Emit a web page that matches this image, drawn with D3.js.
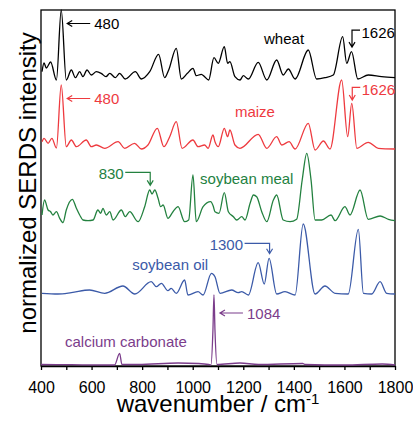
<!DOCTYPE html>
<html lang="en">
<head>
<meta charset="utf-8">
<title>SERDS spectra</title>
<style>
  body { margin: 0; background-color: white; }
  svg { font-family: Arial, "Liberation Sans", sans-serif; }
  .axis path, .axis line { fill: none; stroke: black; stroke-width: 1.3px; }
  .axis text { font-size: 16px; fill: black; }
  .spec { fill: none; stroke-width: 1.3px; stroke-linejoin: round; }
  .note { font-size: 15px; }
  .arrow { fill: none; stroke-width: 1.2px; }
</style>
</head>
<body>
<script src="https://cdnjs.cloudflare.com/ajax/libs/d3/7.8.5/d3.min.js"></script>
<script>
// spectra: [wavenumber, intensity above own baseline]
var names = ["wheat", "maize", "soybean meal", "soybean oil", "calcium carbonate"];
var colors = ["#000000", "#ee3a3f", "#23813f", "#3b5aa8", "#7b3d8b"];
var offsets = [287, 216, 145, 72, 1];

var wheat = [[404,7.3],[412,16],[421,11],[438,17],[461,-1],[480,69],[500,-1],[520,9],[536,1.3],[553,7.3],
  [566,2.3],[582,9],[599,4],[619,7.3],[638,5.7],[657,2.3],[672,5.7],[694,1.3],[711,5.7],[733,0],[773,7.3],
  [797,0],[830,7.3],[865,24.7],[889,1.3],[905,9],[935,30.7],[955,0],[979,5.7],[1001,10.7],[1014,3.3],
  [1034,4.7],[1047,2.3],[1063,-1],[1084,21.3],[1101,15.7],[1125,32.3],[1138,15.7],[1147,17.3],[1167,2.3],
  [1187,-1],[1200,3.3],[1220,0],[1259,16.7],[1293,-1],[1332,19],[1358,4],[1378,10],[1405,0],[1457,29],
  [1490,0],[1523,1.3],[1556,4],[1593,42.3],[1609,15.7],[1628,27.3],[1653,0],[1694,4],[1747,2.3],[1800,1.3]];

var maize = [[404,8.3],[412,11.7],[428,6.7],[443,11.7],[461,2],[480,65],[500,3.3],[520,10],[540,3.3],
  [579,10],[599,3.3],[619,5],[652,1.7],[705,8.3],[731,1.7],[770,6.7],[797,1],[823,5],[860,21.7],[886,3.3],
  [909,13.3],[935,28.3],[958,1.7],[1001,10],[1021,3.3],[1047,5],[1061,1.7],[1080,15],[1088,8.3],
  [1101,3.3],[1125,21.7],[1138,13.3],[1147,20],[1167,5],[1187,1.7],[1259,15.7],[1293,1.7],[1332,13.3],
  [1352,5],[1381,8.3],[1405,1],[1457,26.7],[1484,0],[1517,9],[1543,1],[1589,70],[1613,13.3],[1629,46.7],
  [1649,1.7],[1694,7.7],[1734,1.7],[1800,1]];

var soyMeal = [[404,6],[414,21],[428,11],[438,9.3],[447,6],[461,9.3],[474,2.7],[487,-1.7],[500,11],
  [524,21.7],[540,12.7],[553,6],[566,1],[586,0.3],[606,1],[625,11],[636,7.7],[645,12.7],[658,6],[672,9.3],
  [685,1],[718,11],[733,4.3],[751,9.3],[784,-0.7],[810,14.3],[830,31],[839,27],[850,31],[863,22.7],
  [873,14.3],[883,16],[902,2.7],[922,9.3],[942,14.3],[968,-0.7],[984,1],[1001,46],[1014,-0.7],[1041,14.3],
  [1071,19.3],[1081,15],[1088,9.3],[1104,7.7],[1125,28.3],[1141,9.3],[1161,4.3],[1174,1],[1194,4.3],
  [1207,1],[1227,17.7],[1240,26],[1253,24.3],[1273,9.3],[1293,-0.7],[1319,21],[1332,26],[1358,1],
  [1385,-0.7],[1411,1.7],[1433,41],[1451,67.7],[1468,41],[1484,1],[1510,1],[1547,6],[1563,0.3],
  [1602,14.3],[1622,6],[1662,31],[1694,1.7],[1741,5],[1774,1.7],[1800,0.3]];

var soyOil = [[404,0.7],[467,0],[520,1.3],[592,4],[652,0.7],[724,8],[771,0],[836,12.3],[856,7.3],
  [876,10.7],[902,3.3],[915,5.7],[935,0.7],[968,14],[981,-1],[1021,2.3],[1041,-1],[1074,20.7],[1088,17.3],
  [1108,0.7],[1154,4],[1180,1.3],[1194,2.3],[1220,-1],[1259,31.3],[1283,10],[1302,35.7],[1332,0],
  [1365,2.3],[1405,-1],[1437,70],[1484,0],[1523,8],[1563,0.7],[1615,0],[1655,64.7],[1675,0.7],[1708,0],
  [1741,12.3],[1767,0.7],[1800,0]];

var calcium = [[400,0.5],[520,0.3],[691,0],[711,11.7],[720,0.5],[784,0.5],[942,2],[1021,1.5],[1063,0.5],
  [1072,0],[1080,35],[1084,70],[1088,35],[1096,0.5],[1187,2],[1260,0.5],[1435,1.5],[1445,0.5],[1600,0],
  [1750,1],[1800,0]];

var spectra = [wheat, maize, soyMeal, soyOil, calcium];

// peak callouts: series, wavenumber, peak height, label
var calloutSeries = [0, 1, 0, 1, 2, 3, 4];
var calloutWn = [480, 480, 1628, 1629, 830, 1302, 1084];
var calloutPeak = [69, 65, 27.3, 46.7, 31, 35.7, 70];
var calloutText = ["480", "480", "1626", "1626", "830", "1300", "1084"];

// series names placed at [wavenumber, height]
var nameX = [1282, 1167, 1029, 761, 495];
var nameY = [322.5, 249.3, 182, 96.5, 19.3];

var majorTicks = [400, 600, 800, 1000, 1200, 1400, 1600, 1800];
var minorTicks = [500, 700, 900, 1100, 1300, 1500, 1700];

var fullWidth = 413, fullHeight = 422;
var margin = {top: 10, right: 18, bottom: 56, left: 41};
var width = fullWidth - margin.left - margin.right;
var height = fullHeight - margin.top - margin.bottom;

var svg = d3.select("body")
            .append("svg")
            .attr("width", fullWidth)
            .attr("height", fullHeight)
            .append("g")
            .attr("transform", "translate(" + margin.left + "," + margin.top + ")");

var x = d3.scaleLinear().domain([400, 1800]).range([0, width]);
var y = d3.scaleLinear().domain([0, 356]).range([height, 0]);

svg.append("g")
   .attr("class", "axis")
   .attr("transform", "translate(0," + height + ")")
   .call(d3.axisBottom(x).tickValues(majorTicks).tickFormat(d3.format("d"))
           .tickSize(4).tickSizeOuter(0).tickPadding(12));

// unlabelled ticks in between
svg.append("g")
   .attr("class", "axis")
   .attr("transform", "translate(0," + height + ")")
   .call(d3.axisBottom(x).tickValues(minorTicks).tickSize(4).tickSizeOuter(0))
   .call(function(g) { g.selectAll("text").remove(); g.select(".domain").remove(); });

// frame
svg.append("rect")
   .attr("width", width).attr("height", height)
   .attr("fill", "none").attr("stroke", "black").attr("stroke-width", 1.3);

var line = d3.line().curve(d3.curveMonotoneX);

spectra.forEach(function(data, i) {
  line.x(function(d) { return x(d[0]); })
      .y(function(d) { return y(d[1] + offsets[i]); });
  svg.append("path")
     .attr("class", "spec")
     .attr("stroke", colors[i])
     .attr("d", line(data));

  svg.append("text")
     .attr("class", "note")
     .attr("x", x(nameX[i]))
     .attr("y", y(nameY[i]))
     .attr("fill", colors[i])
     .text(names[i]);
});

// callouts
calloutText.forEach(function(t, i) {
  var s = calloutSeries[i];
  var px = x(calloutWn[i]);
  var py = y(calloutPeak[i] + offsets[s]);
  var c = colors[s];
  var g = svg.append("g").attr("stroke", c);
  var tx, ty, anchor = "start";

  if (i === 0 || i === 1 || i === 6) {
    // straight arrow pointing left at the peak
    var ay = py + (i === 6 ? 18 : 13.5);
    var tip = px + 6;
    g.append("path").attr("class", "arrow")
     .attr("d", "M" + (px + 29) + "," + ay + "H" + tip +
                "M" + (tip + 5) + "," + (ay - 3) + "L" + tip + "," + ay + "L" + (tip + 5) + "," + (ay + 3));
    tx = px + 33; ty = ay + 5.5;
  } else {
    // bent arrow dropping onto the peak
    var right = (i === 2 || i === 3);
    var cx = px + 0.5;
    var tipY = py - (i === 3 ? 3.3 : 4.6);
    var cornerY = py - (i === 2 ? 21.5 : i === 3 ? 16 : i === 4 ? 17.7 : 15);
    var arm = right ? 8 : -25;
    g.append("path").attr("class", "arrow")
     .attr("d", "M" + (cx + arm) + "," + cornerY + "H" + cx + "V" + tipY +
                "M" + (cx - 3) + "," + (tipY - 5) + "L" + cx + "," + tipY + "L" + (cx + 3) + "," + (tipY - 5));
    if (right) { tx = cx + arm + 1.5; ty = cornerY + 8; }
    else { tx = cx + arm - 1.5; ty = cornerY + 6.5; anchor = "end"; }
  }
  svg.append("text")
     .attr("class", "note")
     .attr("x", tx).attr("y", ty)
     .attr("text-anchor", anchor)
     .attr("fill", c)
     .text(t);
});

// axis titles
var xt = svg.append("text")
   .attr("x", width / 2)
   .attr("y", height + 46)
   .attr("text-anchor", "middle")
   .attr("font-size", 24)
   .text("wavenumber / cm");
xt.append("tspan").attr("font-size", 15).attr("dy", -8).text("-1");

svg.append("text")
   .attr("transform", "rotate(-90)")
   .attr("x", -173)
   .attr("y", -5)
   .attr("text-anchor", "middle")
   .attr("font-size", 24)
   .text("normalized SERDS intensity");
</script>
</body>
</html>
